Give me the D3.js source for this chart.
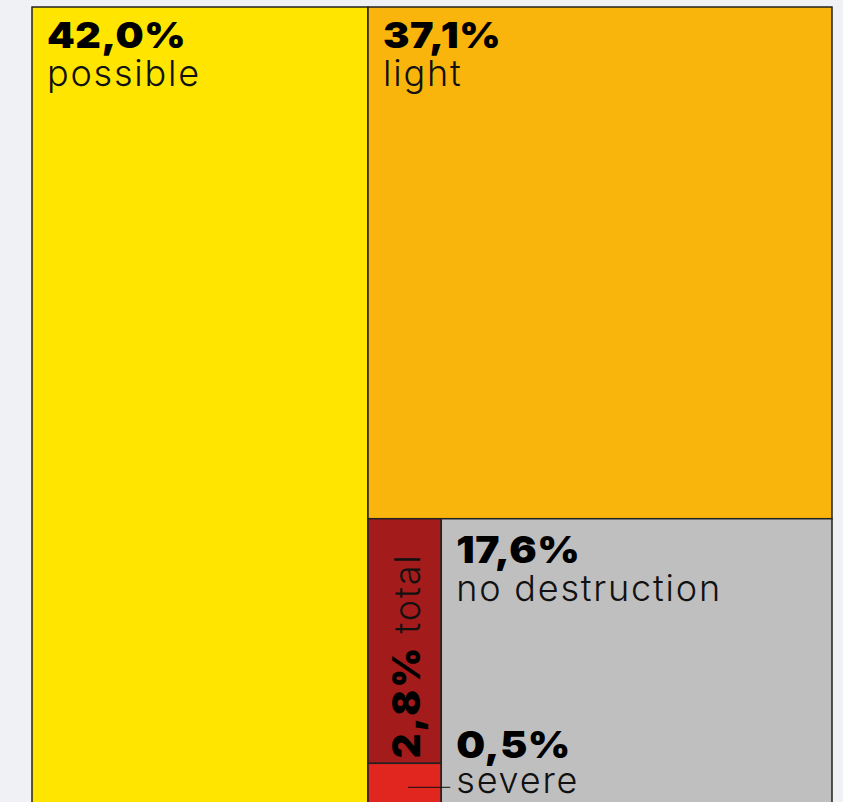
<!DOCTYPE html>
<html>
<head>
<meta charset="utf-8">
<script src="https://cdn.jsdelivr.net/npm/d3@7"></script>
<style>
  html, body { margin: 0; padding: 0; background: #f0f1f4; }
  svg { display: block; }
  .num { font-family: Inter, "Noto Sans", sans-serif; font-weight: 900; fill: #000; letter-spacing: 0.5px; }
  .lab { font-family: Inter, "Noto Sans", sans-serif; font-weight: 300; fill: #111; letter-spacing: 1.8px; }
</style>
</head>
<body>
<svg id="chart" width="843" height="802"></svg>
<script>
// ---- data ----
const nodeIds   = ["root", "possible", "rest", "light", "bottom", "redcol", "total", "severe", "no destruction"];
const parentIds = ["",     "root",     "root", "rest",  "rest",   "bottom", "redcol", "redcol", "bottom"];
const shares    = [0,      42.0,       0,      37.1,    0,        0,        2.8,      0.5,      17.6];
const shareLabels = { "possible": "42,0%", "light": "37,1%", "total": "2,8%", "severe": "0,5%", "no destruction": "17,6%" };
const colors = { "possible": "#FFE500", "light": "#F9B50C", "total": "#A31B1A", "severe": "#E1251F", "no destruction": "#BFBFBF" };

const rows = nodeIds.map((id, i) => ({ id, parent: parentIds[i] || null, value: shares[i] }));

const svg = d3.select("#chart");
const W = 800, H = 800, marginLeft = 32, marginTop = 7;
const numStretch = 1.1;

const root = d3.stratify().id(d => d.id).parentId(d => d.parent)(rows)
  .sum(d => d.value);

d3.treemap().tile(d3.treemapSliceDice).size([W, H]).round(false)(root);

const g = svg.append("g").attr("transform", `translate(${marginLeft},${marginTop})`);

const leaves = root.leaves();
g.selectAll("rect.leaf").data(leaves).join("rect")
  .attr("class", "leaf")
  .attr("x", d => d.x0).attr("y", d => d.y0)
  .attr("width", d => d.x1 - d.x0).attr("height", d => d.y1 - d.y0)
  .attr("fill", d => colors[d.id])
  .attr("stroke", "#222").attr("stroke-width", 1.5);

const byId = {};
leaves.forEach(d => byId[d.id] = d);

function numText(x, y, size, txt) {
  g.append("text").attr("class", "num")
    .attr("transform", `translate(${x},${y}) scale(${numStretch},1)`)
    .style("font-size", size + "px")
    .text(txt);
}

// standard labels
["possible", "light", "no destruction"].forEach(id => {
  const d = byId[id];
  const big = id === "no destruction";
  const dy = big ? 44 : 41;
  numText(d.x0 + 15, d.y0 + dy, big ? 37 : 36, shareLabels[id]);
  g.append("text").attr("class", "lab")
    .attr("x", d.x0 + 15).attr("y", d.y0 + dy + 38)
    .style("font-size", "36px")
    .text(id);
});

// rotated total label
{
  const d = byId["total"];
  const t = g.append("text")
    .attr("transform", `translate(${d.x0 + 52},${d.y1 - 5}) rotate(-90)`);
  t.append("tspan").attr("class", "num").style("font-size", "38px").style("letter-spacing", "2.5px").text(shareLabels["total"]);
  t.append("tspan").attr("class", "lab").style("font-size", "36px").text(" total");
}

// severe label with leader line
{
  const d = byId["severe"];
  const nd = byId["no destruction"];
  const ly = d.y0 + 24;
  g.append("line")
    .attr("x1", d.x0 + 40).attr("x2", nd.x0 + 9)
    .attr("y1", ly).attr("y2", ly)
    .attr("stroke", "#111").attr("stroke-width", 1);
  numText(nd.x0 + 15, d.y0 - 5, 37, shareLabels["severe"]);
  g.append("text").attr("class", "lab")
    .attr("x", nd.x0 + 15).attr("y", d.y0 + 30)
    .style("font-size", "36px")
    .text("severe");
}
</script>
</body>
</html>
